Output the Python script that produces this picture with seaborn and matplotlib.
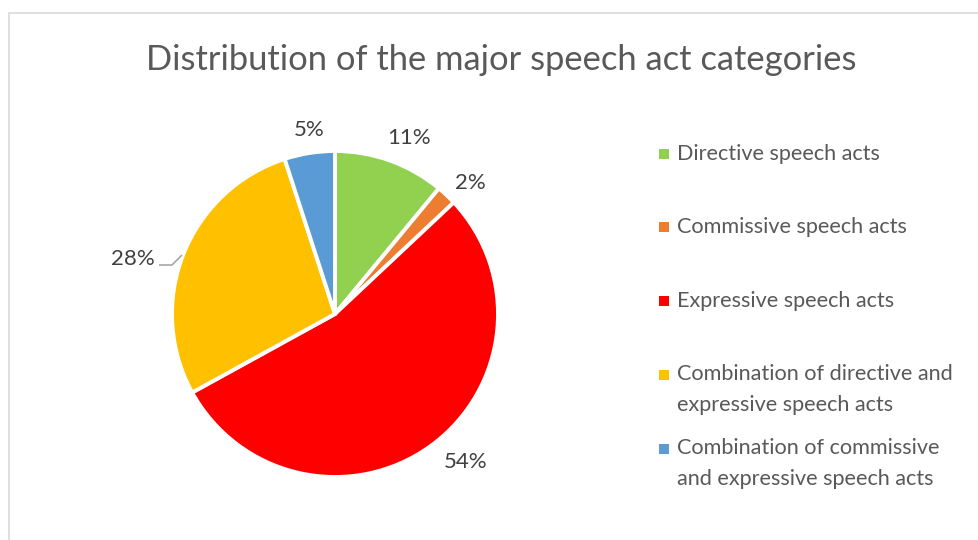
import matplotlib
matplotlib.use("Agg")
import matplotlib.pyplot as plt
from matplotlib.patches import Rectangle
import numpy as np
import seaborn as sns

categories = [
    "Directive speech acts",
    "Commissive speech acts",
    "Expressive speech acts",
    "Combination of directive and\nexpressive speech acts",
    "Combination of commissive\nand expressive speech acts",
]
shares = [11, 2, 54, 28, 5]
pct_labels = ["11%", "2%", "54%", "28%", "5%"]
colors = ["#92D050", "#ED7D31", "#FF0000", "#FFC000", "#5B9BD5"]
title = "Distribution of the major speech act categories"

sns.set_theme(style="white")
plt.rcParams["font.family"] = ["Lato", "DejaVu Sans"]
palette = sns.color_palette(colors)

W, H = 979, 540
fig = plt.figure(figsize=(W / 100, H / 100), dpi=100)
fig.patch.set_facecolor("white")

# chart frame (runs past the right and bottom edges)
fig.patches.append(Rectangle((9 / W, -0.1), 1.2, (H - 12.5) / H + 0.1,
                             transform=fig.transFigure, fill=False,
                             edgecolor="#D9D9D9", linewidth=1.2))

fig.text(501 / W, 1 - 60 / H, title, ha="center", va="center",
         fontsize=24.8, color="#595959")

# pie axes: centre (335, 314) px, radius 163 px
cx, cy, r = 335, 314, 163
half = 200
ax = fig.add_axes([(cx - half) / W, (H - cy - half) / H, 2 * half / W, 2 * half / H])
wedges, _ = ax.pie(shares, colors=palette, startangle=90, counterclock=False,
                   wedgeprops=dict(edgecolor="white", linewidth=2.8))
lim = half / r
ax.set_xlim(-lim, lim)
ax.set_ylim(-lim, lim)
ax.set_aspect("equal")
ax.axis("off")

# label placement: radial distance (in radii) and angular nudge (deg)
label_dist = [1.17, 1.155, 1.21, None, 1.14]
label_turn = [-3.0, -2.7, 5.3, 0.0, -1.0]
for w, lab, d, t in zip(wedges, pct_labels, label_dist, label_turn):
    if d is None:
        # outside label with a leader line back to the wedge rim
        pts_x = np.array([182, 172, 159]) - cx
        pts_y = cy - np.array([255, 265, 265])
        ax.plot(pts_x / r, pts_y / r, color="#A6A6A6", linewidth=1.2,
                solid_capstyle="butt")
        ax.text((155 - cx) / r, (cy - 259) / r, lab, ha="right", va="center",
                fontsize=16, color="#404040")
        continue
    mid = np.deg2rad((w.theta1 + w.theta2) / 2 + t)
    ax.text(d * np.cos(mid), d * np.sin(mid), lab, ha="center", va="center",
            fontsize=16, color="#404040")

# legend: key square sits level with the first text line of each entry
line_gap = 29
first_line_y = [154, 227, 301, 375, 449]
for col, lab, ly in zip(palette, categories, first_line_y):
    n_lines = lab.count("\n") + 1
    fig.patches.append(Rectangle((659 / W, 1 - (ly + 5) / H), 10 / W, 10 / H,
                                 transform=fig.transFigure, facecolor=col,
                                 edgecolor="none"))
    text_y = ly + (n_lines - 1) * line_gap / 2
    fig.text(677 / W, 1 - text_y / H, lab, ha="left", va="center", fontsize=15.6,
             color="#595959", linespacing=1.64)

fig.savefig("out.png", dpi=100)
